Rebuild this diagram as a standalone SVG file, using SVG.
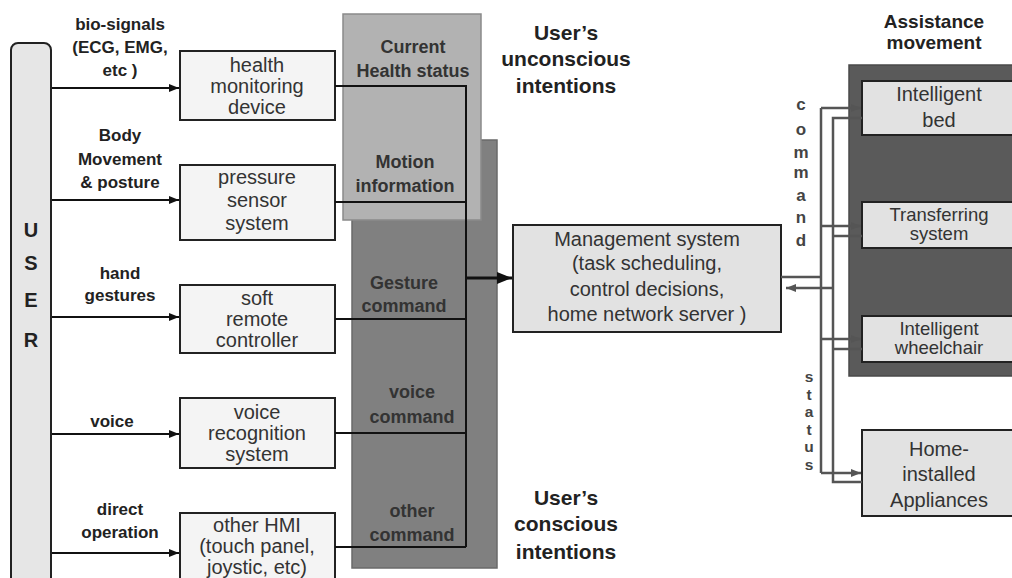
<svg xmlns="http://www.w3.org/2000/svg" width="1012" height="578" viewBox="0 0 1012 578">
<defs>
<style>
.lbl{font-family:"Liberation Sans",Arial,sans-serif;font-weight:bold;font-size:17px;fill:#222;text-anchor:middle}
.pan{font-family:"Liberation Sans",Arial,sans-serif;font-weight:bold;font-size:18px;fill:#333;text-anchor:middle}
.big{font-family:"Liberation Sans",Arial,sans-serif;font-weight:bold;font-size:21px;fill:#222;text-anchor:middle}
.box{fill:#f4f4f4;stroke:#222;stroke-width:2}
.rbox{fill:#e2e2e2;stroke:#222;stroke-width:2}
.txt{font-family:"Liberation Sans",Arial,sans-serif;font-size:20px;fill:#333;text-anchor:middle}
.tt{font-size:18.5px}
.ln{fill:none;stroke:#111;stroke-width:2}
.gl{fill:none;stroke:#555;stroke-width:2.5}
.vl{font-family:"Liberation Sans",Arial,sans-serif;font-weight:bold;font-size:17px;fill:#444;text-anchor:middle}
.vs{font-size:15.5px}
</style>
<marker id="ah" viewBox="0 0 10 10" refX="10" refY="5" markerWidth="5" markerHeight="5" orient="auto" markerUnits="strokeWidth"><path d="M0,1 L10,5 L0,9 z" fill="#111"/></marker>
<marker id="ahg" viewBox="0 0 10 10" refX="10" refY="5" markerWidth="4" markerHeight="4" orient="auto" markerUnits="strokeWidth"><path d="M0,1 L10,5 L0,9 z" fill="#555"/></marker>
</defs>
<rect width="1012" height="578" fill="#fff"/>

<!-- panels -->
<g id="conscious-panel">
<rect x="352" y="140" width="145" height="428" fill="#808080" stroke="#6a6a6a" stroke-width="1.5"/>
</g>
<g id="unconscious-panel">
<rect x="343" y="14" width="138" height="206" fill="#b2b2b2" stroke="#8a8a8a" stroke-width="1.5"/>
</g>
<g id="panel-texts">
<text class="pan" x="413" y="53">Current</text>
<text class="pan" x="413" y="77">Health status</text>
<text class="pan" x="405" y="168">Motion</text>
<text class="pan" x="405" y="192">information</text>
<text class="pan" x="404" y="289">Gesture</text>
<text class="pan" x="404" y="312">command</text>
<text class="pan" x="412" y="398">voice</text>
<text class="pan" x="412" y="423">command</text>
<text class="pan" x="412" y="517">other</text>
<text class="pan" x="412" y="541">command</text>
</g>

<g id="assist-panel">
<rect x="849" y="65" width="170" height="311" fill="#5a5a5a" stroke="#4a4a4a" stroke-width="1.5"/>
</g>

<!-- user -->
<g id="user">
<rect x="11" y="43" width="40" height="550" rx="7" fill="#e6e6e6" stroke="#222" stroke-width="2"/>
<text class="lbl" x="31" y="237" style="font-size:20px">U</text>
<text class="lbl" x="31" y="270" style="font-size:20px">S</text>
<text class="lbl" x="31" y="307" style="font-size:20px">E</text>
<text class="lbl" x="31" y="347" style="font-size:20px">R</text>
</g>

<!-- input labels -->
<g id="labels">
<text class="lbl" x="120" y="30">bio-signals</text>
<text class="lbl" x="120" y="53">(ECG, EMG,</text>
<text class="lbl" x="120" y="76">etc )</text>
<text class="lbl" x="120" y="141">Body</text>
<text class="lbl" x="120" y="165">Movement</text>
<text class="lbl" x="120" y="188">&amp; posture</text>
<text class="lbl" x="120" y="279">hand</text>
<text class="lbl" x="120" y="301">gestures</text>
<text class="lbl" x="112" y="427">voice</text>
<text class="lbl" x="120" y="515">direct</text>
<text class="lbl" x="120" y="538">operation</text>
<text class="big" x="566" y="40">User’s</text>
<text class="big" x="566" y="66">unconscious</text>
<text class="big" x="566" y="93">intentions</text>
<text class="big" x="566" y="505">User’s</text>
<text class="big" x="566" y="531">conscious</text>
<text class="big" x="566" y="559">intentions</text>
<text class="lbl" x="934" y="28" style="font-size:19px">Assistance</text>
<text class="lbl" x="934" y="49" style="font-size:19px">movement</text>
</g>

<!-- device boxes -->
<g id="health-monitoring">
<rect class="box" x="180" y="51" width="155" height="69"/>
<text class="txt" x="257" y="72">health</text>
<text class="txt" x="257" y="93">monitoring</text>
<text class="txt" x="257" y="114">device</text>
</g>
<g id="pressure-sensor">
<rect class="box" x="180" y="165" width="155" height="75"/>
<text class="txt" x="257" y="184">pressure</text>
<text class="txt" x="257" y="207">sensor</text>
<text class="txt" x="257" y="230">system</text>
</g>
<g id="soft-remote">
<rect class="box" x="180" y="285" width="155" height="68"/>
<text class="txt" x="257" y="305">soft</text>
<text class="txt" x="257" y="326">remote</text>
<text class="txt" x="257" y="347">controller</text>
</g>
<g id="voice-recognition">
<rect class="box" x="180" y="398" width="155" height="70"/>
<text class="txt" x="257" y="419">voice</text>
<text class="txt" x="257" y="440">recognition</text>
<text class="txt" x="257" y="461">system</text>
</g>
<g id="other-hmi">
<rect class="box" x="180" y="513" width="155" height="80"/>
<text class="txt" x="257" y="532">other HMI</text>
<text class="txt" x="257" y="553">(touch panel,</text>
<text class="txt" x="257" y="574">joystic, etc)</text>
</g>

<!-- management -->
<g id="management">
<rect class="rbox" x="513" y="225" width="268" height="107"/>
<text class="txt" x="647" y="246">Management system</text>
<text class="txt" x="647" y="270">(task scheduling,</text>
<text class="txt" x="647" y="296">control decisions,</text>
<text class="txt" x="647" y="321">home network server )</text>
</g>

<!-- right boxes -->
<g id="intelligent-bed">
<rect class="rbox" x="862" y="81" width="160" height="54"/>
<text class="txt" x="939" y="101">Intelligent</text>
<text class="txt" x="939" y="127">bed</text>
</g>
<g id="transferring-system">
<rect class="rbox" x="862" y="202" width="160" height="46"/>
<text class="txt tt" x="939" y="221">Transferring</text>
<text class="txt tt" x="939" y="240">system</text>
</g>
<g id="intelligent-wheelchair">
<rect class="rbox" x="862" y="316" width="160" height="46"/>
<text class="txt tt" x="939" y="335">Intelligent</text>
<text class="txt tt" x="939" y="354">wheelchair</text>
</g>
<g id="home-appliances">
<rect class="rbox" x="862" y="430" width="160" height="86"/>
<text class="txt" x="939" y="456">Home-</text>
<text class="txt" x="939" y="481">installed</text>
<text class="txt" x="939" y="507">Appliances</text>
</g>

<!-- connectors -->
<g id="connectors">
<line class="ln" x1="52" y1="88" x2="179" y2="88" marker-end="url(#ah)"/>
<line class="ln" x1="52" y1="200" x2="179" y2="200" marker-end="url(#ah)"/>
<line class="ln" x1="52" y1="317" x2="179" y2="317" marker-end="url(#ah)"/>
<line class="ln" x1="52" y1="434" x2="179" y2="434" marker-end="url(#ah)"/>
<line class="ln" x1="52" y1="553" x2="179" y2="553" marker-end="url(#ah)"/>
<path class="ln" d="M335,86 H466 V547"/>
<path class="ln" d="M335,202 H466"/>
<path class="ln" d="M335,319 H466"/>
<path class="ln" d="M335,433 H466"/>
<path class="ln" d="M335,547 H466"/>
<line x1="466" y1="278" x2="512" y2="278" stroke="#111" stroke-width="3" marker-end="url(#ah)"/>

<path class="gl" d="M781,277 H821"/>
<path class="gl" d="M821,108 V473"/>
<line class="gl" x1="821" y1="108" x2="861" y2="108" marker-end="url(#ahg)"/>
<line class="gl" x1="821" y1="226" x2="861" y2="226" marker-end="url(#ahg)"/>
<line class="gl" x1="821" y1="339" x2="861" y2="339" marker-end="url(#ahg)"/>
<line class="gl" x1="821" y1="473" x2="861" y2="473" marker-end="url(#ahg)"/>
<path class="gl" d="M862,118 H833 V482 H862"/>
<path class="gl" d="M862,236 H833"/>
<path class="gl" d="M862,349 H833"/>
<line class="gl" x1="833" y1="288" x2="786" y2="288" marker-end="url(#ahg)"/>
</g>

<g id="connector-labels">
<text class="vl" x="801" y="110">c</text>
<text class="vl" x="801" y="135">o</text>
<text class="vl" x="801" y="158">m</text>
<text class="vl" x="801" y="178">m</text>
<text class="vl" x="801" y="201">a</text>
<text class="vl" x="801" y="223">n</text>
<text class="vl" x="801" y="246">d</text>
<text class="vl vs" x="809" y="382">s</text>
<text class="vl vs" x="809" y="400">t</text>
<text class="vl vs" x="809" y="417">a</text>
<text class="vl vs" x="809" y="435">t</text>
<text class="vl vs" x="809" y="452">u</text>
<text class="vl vs" x="809" y="470">s</text>
</g>
</svg>
